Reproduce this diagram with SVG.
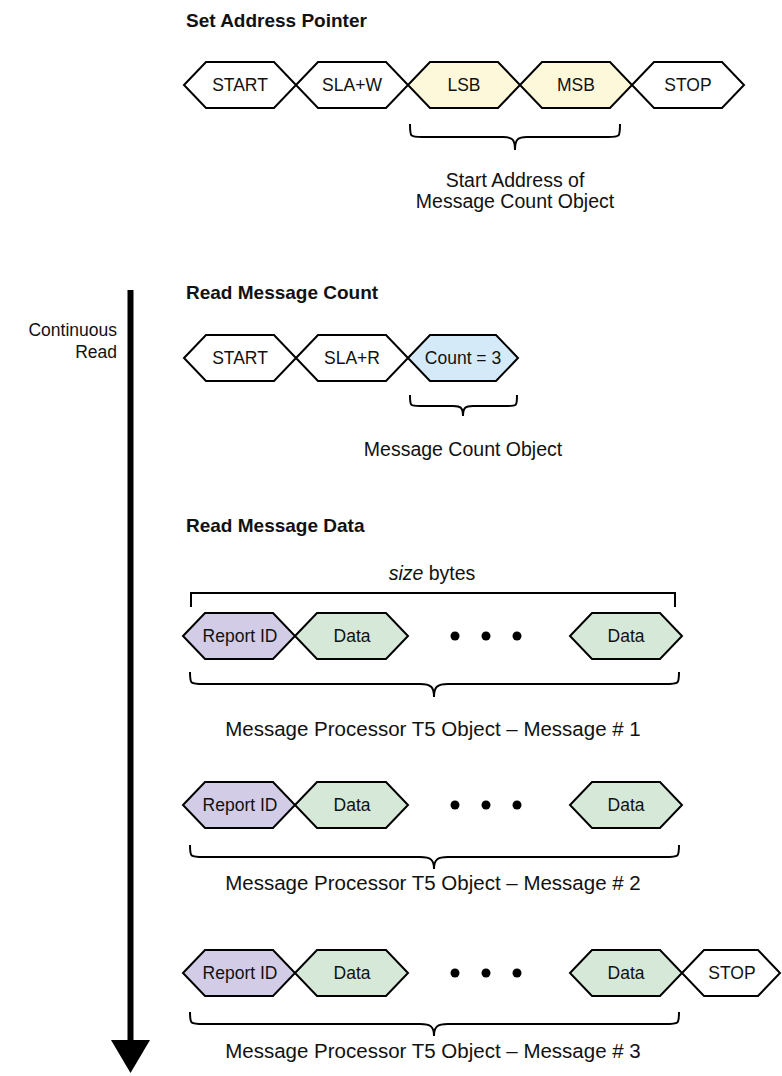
<svg xmlns="http://www.w3.org/2000/svg" width="782" height="1076" viewBox="0 0 782 1076">
<style>
.hx{stroke:#000;stroke-width:2;stroke-linejoin:miter}
.w{fill:#fff}.y{fill:#FDF8DA}.b{fill:#D5EAF9}.p{fill:#D2CCE6}.g{fill:#D6E9D8}
.lbl{font-family:"Liberation Sans",Arial,sans-serif;font-size:17.5px;fill:#111;text-anchor:middle}
.ttl{font-family:"Liberation Sans",Arial,sans-serif;font-size:19px;font-weight:bold;fill:#111}
.txt{font-family:"Liberation Sans",Arial,sans-serif;font-size:19.5px;fill:#111;text-anchor:middle}
.row{font-size:20.5px}
.br{fill:none;stroke:#000;stroke-width:2}
</style>
<rect width="782" height="1076" fill="#fff"/>
<text class="ttl" x="186" y="27">Set Address Pointer</text>
<text class="ttl" x="186" y="299">Read Message Count</text>
<text class="ttl" x="186" y="532">Read Message Data</text>

<g id="a-start"><polygon class="hx w" points="184,85 206,62 274,62 296,85 274,108 206,108"/><text class="lbl" x="240" y="91">START</text></g>
<g id="a-slaw"><polygon class="hx w" points="296,85 318,62 386,62 408,85 386,108 318,108"/><text class="lbl" x="352" y="91">SLA+W</text></g>
<g id="a-lsb"><polygon class="hx y" points="408,85 430,62 498,62 520,85 498,108 430,108"/><text class="lbl" x="464" y="91">LSB</text></g>
<g id="a-msb"><polygon class="hx y" points="520,85 542,62 610,62 632,85 610,108 542,108"/><text class="lbl" x="576" y="91">MSB</text></g>
<g id="a-stop"><polygon class="hx w" points="632,85 654,62 722,62 744,85 722,108 654,108"/><text class="lbl" x="688" y="91">STOP</text></g>
<g id="a-brace"><path class="br" d="M410,124 C410,137 410,137 422,137 L503,137 C512,137 515,139 515,150 C515,139 518,137 527,137 L608,137 C620,137 620,137 620,124"/>
<text class="txt" x="515" y="187">Start Address of</text><text class="txt" x="515" y="208">Message Count Object</text></g>

<g id="arrow"><rect x="127.5" y="290" width="6" height="752" fill="#000"/><polygon points="111,1040 150,1040 130.5,1073" fill="#000"/>
<text class="txt" x="117" y="336" style="text-anchor:end;font-size:17.5px">Continuous</text><text class="txt" x="117" y="358" style="text-anchor:end;font-size:17.5px">Read</text></g>

<g id="b-start"><polygon class="hx w" points="184,358 206,335 274,335 296,358 274,381 206,381"/><text class="lbl" x="240" y="364">START</text></g>
<g id="b-slar"><polygon class="hx w" points="296,358 318,335 386,335 408,358 386,381 318,381"/><text class="lbl" x="352" y="364">SLA+R</text></g>
<g id="b-count"><polygon class="hx b" points="408,358 430,335 496,335 518,358 496,381 430,381"/><text class="lbl" x="463" y="364">Count = 3</text></g>
<g id="b-brace"><path class="br" d="M410,395 C410,406 410,406 420,406 L453,406 C461,406 463,408 463,416 C463,408 465,406 473,406 L507,406 C517,406 517,406 517,395"/>
<text class="txt" x="463" y="456">Message Count Object</text></g>

<text class="txt" x="432" y="580"><tspan font-style="italic">size</tspan> bytes</text>
<path class="br" d="M191,607 V593 H675 V607" stroke-width="1.8"/>

<g id="c1">
<g id="c1-rid"><polygon class="hx p" points="183,636 205,613 273,613 295,636 273,659 205,659"/><text class="lbl" x="240" y="642">Report ID</text></g>
<g id="c1-d1"><polygon class="hx g" points="295,636 317,613 386,613 408,636 386,659 317,659"/><text class="lbl" x="352" y="642">Data</text></g>
<circle cx="455" cy="636" r="4.5"/><circle cx="486" cy="636" r="4.5"/><circle cx="517" cy="636" r="4.5"/>
<g id="c1-d2"><polygon class="hx g" points="570,636 592,613 660,613 682,636 660,659 592,659"/><text class="lbl" x="626" y="642">Data</text></g>
<path class="br" d="M190,672 C190,684 190,684 204,684 L420,684 C431,684 434,687 434,697 C434,687 437,684 448,684 L665,684 C679,684 679,684 679,672"/>
<text class="txt row" x="433" y="736">Message Processor T5 Object – Message # 1</text>
</g>

<g id="c2">
<g id="c2-rid"><polygon class="hx p" points="183,805 205,782 273,782 295,805 273,828 205,828"/><text class="lbl" x="240" y="811">Report ID</text></g>
<g id="c2-d1"><polygon class="hx g" points="295,805 317,782 386,782 408,805 386,828 317,828"/><text class="lbl" x="352" y="811">Data</text></g>
<circle cx="455" cy="805" r="4.5"/><circle cx="486" cy="805" r="4.5"/><circle cx="517" cy="805" r="4.5"/>
<g id="c2-d2"><polygon class="hx g" points="570,805 592,782 660,782 682,805 660,828 592,828"/><text class="lbl" x="626" y="811">Data</text></g>
<path class="br" d="M190,845 C190,857 190,857 204,857 L420,857 C431,857 434,860 434,869 C434,860 437,857 448,857 L665,857 C679,857 679,857 679,845"/>
<text class="txt row" x="433" y="890">Message Processor T5 Object – Message # 2</text>
</g>

<g id="c3">
<g id="c3-rid"><polygon class="hx p" points="183,973 205,950 273,950 295,973 273,996 205,996"/><text class="lbl" x="240" y="979">Report ID</text></g>
<g id="c3-d1"><polygon class="hx g" points="295,973 317,950 386,950 408,973 386,996 317,996"/><text class="lbl" x="352" y="979">Data</text></g>
<circle cx="455" cy="973" r="4.5"/><circle cx="486" cy="973" r="4.5"/><circle cx="517" cy="973" r="4.5"/>
<g id="c3-d2"><polygon class="hx g" points="570,973 592,950 660,950 682,973 660,996 592,996"/><text class="lbl" x="626" y="979">Data</text></g>
<g id="c3-stop"><polygon class="hx w" points="682,973 704,950 758,950 780,973 758,996 704,996"/><text class="lbl" x="732" y="979">STOP</text></g>
<path class="br" d="M190,1012 C190,1024 190,1024 204,1024 L420,1024 C431,1024 434,1027 434,1036 C434,1027 437,1024 448,1024 L665,1024 C679,1024 679,1024 679,1012"/>
<text class="txt row" x="433" y="1058">Message Processor T5 Object – Message # 3</text>
</g>
</svg>
